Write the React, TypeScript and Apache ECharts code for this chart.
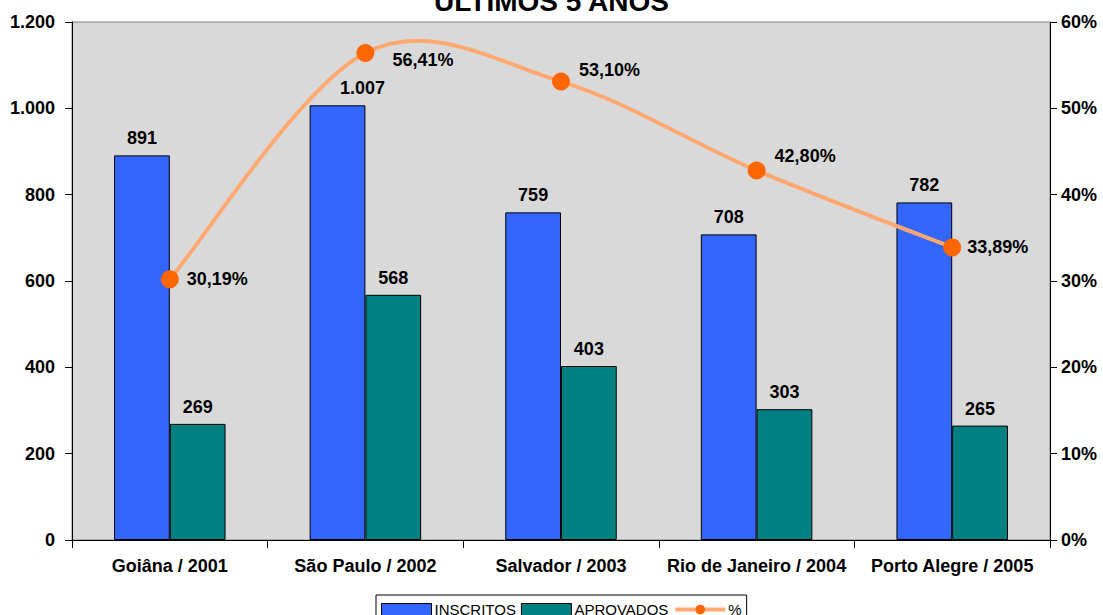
import React, { useEffect, useRef } from "react";
import * as echarts from "echarts";

const categories = ["Goiâna / 2001", "São Paulo / 2002", "Salvador / 2003", "Rio de Janeiro / 2004", "Porto Alegre / 2005"];
const inscritos = [891, 1007, 759, 708, 782];
const aprovados = [269, 568, 403, 303, 265];
const percentual = [30.19, 56.41, 53.1, 42.8, 33.89];
const titleText = "ÚLTIMOS 5 ANOS";

// label placement tweaks (dx, dy), style only
const pctLabelShift = [
  [0, 0],
  [10, 7],
  [1, -12],
  [1, -14],
  [-2, 0],
];
const inscritosLabelShift = [
  [0, 0],
  [25, 0],
  [0, 0],
  [0, 0],
  [0, 0],
];

const FONT = "'Liberation Sans', Arial, sans-serif";

const fmtThousands = (v: number) => String(v).replace(/\B(?=(\d{3})+(?!\d))/g, ".");
const fmtPct = (v: number) => v.toFixed(2).replace(".", ",") + "%";

export default function App() {
  const ref = useRef<HTMLDivElement>(null);
  useEffect(() => {
    if (!ref.current) return;
    const chart = echarts.init(ref.current, undefined, { renderer: "svg" });
    const boldLabel = { color: "#000", fontWeight: "bold", fontSize: 18, fontFamily: FONT };
    chart.setOption({
      animation: false,
      backgroundColor: "#ffffff",
      textStyle: { fontFamily: FONT },
      title: {
        text: titleText,
        left: "center",
        top: -18,
        textStyle: { fontSize: 28, fontWeight: "bold", color: "#000", fontFamily: FONT },
      },
      grid: {
        left: 72,
        right: 53,
        top: 22,
        bottom: 75,
        show: true,
        backgroundColor: "#d9d9d9",
        borderColor: "#808080",
        borderWidth: 1,
      },
      legend: {
        top: 595,
        left: 376,
        itemWidth: 50,
        itemHeight: 12,
        itemGap: 5,
        padding: [7, 5, 5, 5],
        borderColor: "#000",
        borderWidth: 1,
        backgroundColor: "#fff",
        textStyle: { fontFamily: FONT, fontSize: 15, color: "#000", padding: [0, 0, 0, -2] },
        data: [
          { name: "INSCRITOS", icon: "rect", itemStyle: { borderColor: "#000", borderWidth: 1 } },
          { name: "APROVADOS", icon: "rect", itemStyle: { borderColor: "#000", borderWidth: 1 } },
          { name: "%", lineStyle: { color: "#ffa872", width: 4, opacity: 1 } },
        ],
      },
      xAxis: {
        type: "category",
        data: categories,
        axisLine: { lineStyle: { color: "#000", width: 1 } },
        axisTick: { show: true, length: 8, lineStyle: { color: "#000" } },
        axisLabel: { ...boldLabel, interval: 0, margin: 17 },
        splitLine: { show: false },
      },
      yAxis: [
        {
          type: "value",
          min: 0,
          max: 1200,
          interval: 200,
          axisLine: { show: true, lineStyle: { color: "#000" } },
          axisTick: { show: true, length: 7, lineStyle: { color: "#000" } },
          axisLabel: { ...boldLabel, margin: 17, formatter: (v: number) => fmtThousands(v) },
          splitLine: { show: false },
        },
        {
          type: "value",
          min: 0,
          max: 60,
          interval: 10,
          position: "right",
          axisLine: { show: true, lineStyle: { color: "#000" } },
          axisTick: { show: true, length: 7, lineStyle: { color: "#000" } },
          axisLabel: { ...boldLabel, margin: 11, formatter: (v: number) => v + "%" },
          splitLine: { show: false },
        },
      ],
      series: [
        {
          name: "INSCRITOS",
          type: "bar",
          data: inscritos,
          barGap: "0%",
          barCategoryGap: "43%",
          itemStyle: { color: "#3366ff", borderColor: "#000", borderWidth: 1 },
          label: { show: true, position: "top", distance: 8, ...boldLabel, formatter: (p: any) => fmtThousands(p.value) },
          labelLayout: (p: any) => {
            const s = inscritosLabelShift[p.dataIndex] || [0, 0];
            return { dx: s[0], dy: s[1] };
          },
        },
        {
          name: "APROVADOS",
          type: "bar",
          data: aprovados,
          itemStyle: { color: "#008080", borderColor: "#000", borderWidth: 1 },
          label: { show: true, position: "top", distance: 8, ...boldLabel, formatter: (p: any) => fmtThousands(p.value) },
        },
        {
          name: "%curve",
          type: "custom",
          yAxisIndex: 1,
          data: percentual,
          silent: true,
          z: 4,
          renderItem: (params: any, api: any) => {
            if (params.dataIndex !== 0) return null;
            const pts = percentual.map((v, i) => api.coord([i, v]));
            const n = pts.length;
            let d = `M${pts[0][0]},${pts[0][1]}`;
            for (let i = 0; i < n - 1; i++) {
              const p0 = pts[Math.max(i - 1, 0)];
              const p1 = pts[i];
              const p2 = pts[i + 1];
              const p3 = pts[Math.min(i + 2, n - 1)];
              const c1 = [p1[0] + (p2[0] - p0[0]) / 6, p1[1] + (p2[1] - p0[1]) / 6];
              const c2 = [p2[0] - (p3[0] - p1[0]) / 6, p2[1] - (p3[1] - p1[1]) / 6];
              d += ` C${c1[0]},${c1[1]} ${c2[0]},${c2[1]} ${p2[0]},${p2[1]}`;
            }
            return {
              type: "path",
              shape: { pathData: d },
              style: { fill: "none", stroke: "#ffa872", lineWidth: 4 },
            };
          },
        },
        {
          name: "%",
          type: "line",
          yAxisIndex: 1,
          data: percentual,
          symbol: "circle",
          symbolSize: 18,
          itemStyle: { color: "#ff6600" },
          lineStyle: { opacity: 0, width: 0 },
          label: {
            show: true,
            position: "right",
            distance: 8,
            ...boldLabel,
            formatter: (p: any) => fmtPct(p.value),
          },
          labelLayout: (p: any) => {
            const s = pctLabelShift[p.dataIndex] || [0, 0];
            return { dx: s[0], dy: s[1] };
          },
          z: 5,
        },
      ],
    });
    return () => chart.dispose();
  }, []);
  return <div ref={ref} style={{ width: 1103, height: 615, position: "absolute", left: 0, top: 0 }} />;
}
